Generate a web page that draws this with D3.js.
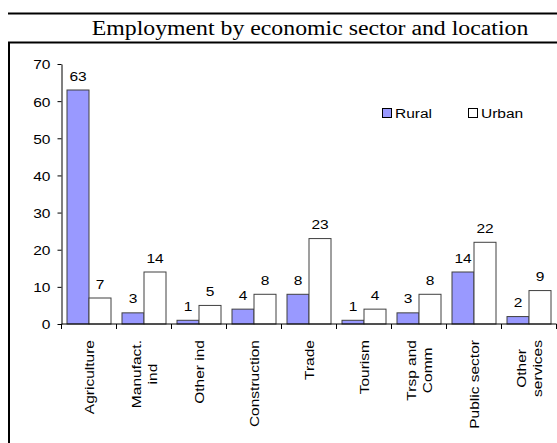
<!DOCTYPE html>
<html>
<head>
<meta charset="utf-8">
<script src="https://cdn.jsdelivr.net/npm/d3@7"></script>
<style>
  html, body { margin: 0; padding: 0; background: #fff; }
  svg { display: block; }
</style>
</head>
<body>
<svg id="chart" width="557" height="443"></svg>
<script>
// Employment shares (%) by economic sector, rural vs urban
const categories = [
  ["Agriculture"], ["Manufact.", "ind"], ["Other ind"], ["Construction"],
  ["Trade"], ["Tourism"], ["Trsp and", "Comm"], ["Public sector"], ["Other", "services"]
];
const seriesNames = ["Rural", "Urban"];
const rural = [63, 3, 1, 4, 8, 1, 3, 14, 2];
const urban = [7, 14, 5, 8, 23, 4, 8, 22, 9];
const yTicks = [0, 10, 20, 30, 40, 50, 60, 70];
const titleText = "Employment by economic sector and location";

const colors = { Rural: "#9999ff", Urban: "#ffffff" };
const sans = "'Liberation Sans', Arial, sans-serif";
const serif = "'Liberation Serif', 'Times New Roman', serif";
const stretch = 1.15;

const svg = d3.select("#chart");
const keys = categories.map(c => c.join(" "));

// frame: rule above the title, box border below it
svg.append("line").attr("x1", 8).attr("x2", 557).attr("y1", 13.5).attr("y2", 13.5)
  .attr("stroke", "#000").attr("stroke-width", 2);
svg.append("path").attr("d", "M9,443V42.5H557")
  .attr("fill", "none").attr("stroke", "#000").attr("stroke-width", 2);

svg.append("text")
  .attr("transform", `translate(310,35) scale(1.19,1)`)
  .attr("text-anchor", "middle")
  .attr("font-family", serif).attr("font-size", 20).attr("fill", "#000")
  .text(titleText);

// scales
const x0 = d3.scaleBand().domain(keys).range([61.5, 556.5]).paddingInner(0).paddingOuter(0);
const x1 = d3.scaleBand().domain(seriesNames).range([0, x0.bandwidth()]).paddingInner(0).paddingOuter(0.25);
const y = d3.scaleLinear().domain([0, 70]).range([324, 64]);

// y axis
const yAxis = svg.append("g")
  .attr("transform", "translate(61.5,0)")
  .call(d3.axisLeft(y).tickValues(yTicks).tickSize(4).tickSizeOuter(0).tickPadding(7));
yAxis.select(".domain").attr("stroke", "#000");
yAxis.selectAll(".tick line").attr("stroke", "#000");
yAxis.selectAll(".tick text")
  .attr("x", null).attr("dy", "0.36em")
  .attr("transform", `translate(-11,0) scale(${stretch},1)`)
  .attr("font-family", sans).attr("font-size", 13.5).attr("fill", "#000");

// bars
const rows = keys.map((k, i) => ({ key: k, Rural: rural[i], Urban: urban[i] }));
const groups = svg.append("g").selectAll("g").data(rows).join("g")
  .attr("transform", d => `translate(${x0(d.key)},0)`);

groups.selectAll("rect")
  .data(d => seriesNames.map(s => ({ s, v: d[s] })))
  .join("rect")
  .attr("x", d => x1(d.s))
  .attr("width", x1.bandwidth())
  .attr("y", d => y(d.v))
  .attr("height", d => y(0) - y(d.v))
  .attr("fill", d => colors[d.s])
  .attr("stroke", "#404040").attr("stroke-width", 1);

groups.selectAll("text.val")
  .data(d => seriesNames.map(s => ({ s, v: d[s] })))
  .join("text")
  .attr("class", "val")
  .attr("text-anchor", "middle")
  .attr("transform", d => `translate(${x1(d.s) + x1.bandwidth() / 2},${y(d.v) - 9.5}) scale(${stretch},1)`)
  .attr("font-family", sans).attr("font-size", 13.5).attr("fill", "#000")
  .text(d => d.v);

// x axis line with ticks between categories
const xAxis = svg.append("g");
xAxis.append("line")
  .attr("x1", x0.range()[0]).attr("x2", x0.range()[1])
  .attr("y1", y(0)).attr("y2", y(0)).attr("stroke", "#000");
const boundaries = keys.map(k => x0(k)).concat([x0.range()[1]]);
xAxis.selectAll("line.tk").data(boundaries).join("line")
  .attr("class", "tk")
  .attr("x1", d => d).attr("x2", d => d)
  .attr("y1", y(0)).attr("y2", y(0) + 5).attr("stroke", "#000");

// rotated category labels, block anchored just below the axis
const labelTop = 340;
const lineGap = 15.5;
categories.forEach((lines, i) => {
  const cx = x0(keys[i]) + x0.bandwidth() / 2;
  const g = svg.append("g").attr("transform", `translate(${cx},${labelTop}) rotate(-90)`);
  const texts = lines.map((ln, j) => g.append("text")
    .attr("font-family", sans).attr("font-size", 13.5).attr("fill", "#000")
    .attr("text-anchor", "middle")
    .text(ln));
  const maxLen = d3.max(texts, t => t.node().getComputedTextLength()) * stretch;
  const n = lines.length;
  texts.forEach((t, j) => {
    const off = (j - (n - 1) / 2) * lineGap;
    t.attr("transform", `translate(${-maxLen / 2},${off + 5}) scale(${stretch},1)`);
  });
});

// legend
const legend = svg.append("g");
const legendX = [382.5, 468.5];
seriesNames.forEach((s, i) => {
  legend.append("rect")
    .attr("x", legendX[i]).attr("y", 108.5).attr("width", 9).attr("height", 9)
    .attr("fill", colors[s]).attr("stroke", "#000").attr("stroke-width", 1);
  legend.append("text")
    .attr("transform", `translate(${legendX[i] + 12.5},118) scale(${stretch},1)`)
    .attr("font-family", sans).attr("font-size", 13.5).attr("fill", "#000")
    .text(s);
});
</script>
</body>
</html>
